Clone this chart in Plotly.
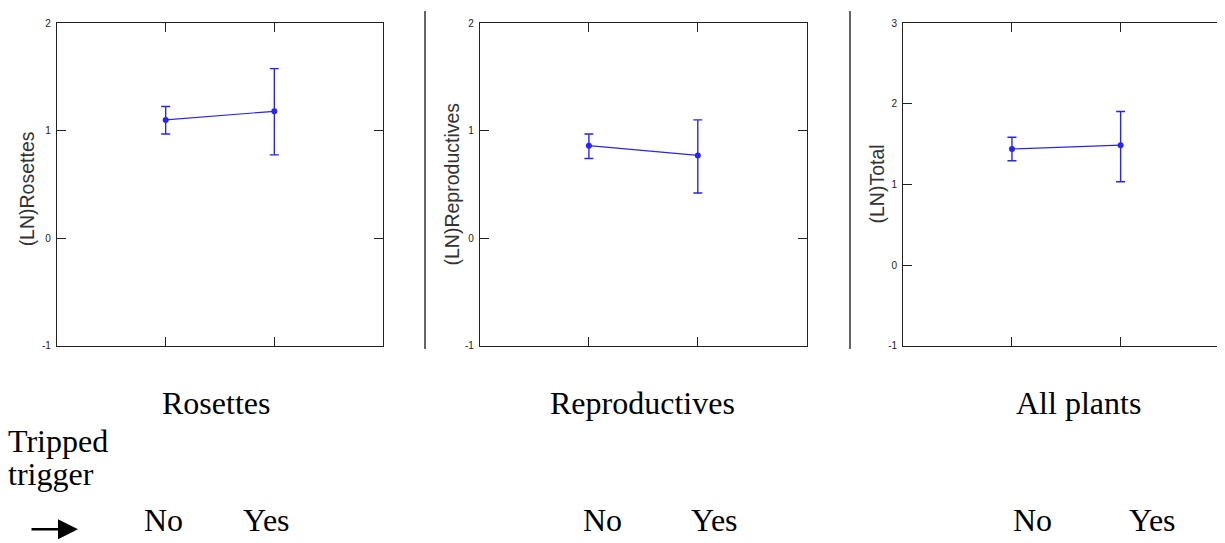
import plotly.graph_objects as go

W, H = 1225, 543
OFF = 8  # page offset of the plot div inside the browser body

groups = ["No", "Yes"]
x_pos = [1, 2]

rosettes_mean = [1.10, 1.18]
rosettes_upper = [1.224, 1.577]
rosettes_lower = [0.969, 0.775]

repro_mean = [0.86, 0.77]
repro_upper = [0.969, 1.10]
repro_lower = [0.741, 0.42]

total_mean = [1.44, 1.487]
total_upper = [1.584, 1.904]
total_lower = [1.293, 1.033]

panel_titles = ["Rosettes", "Reproductives", "All plants"]
y_titles = ["(LN)Rosettes", "(LN)Reproductives", "(LN)Total"]
y_ranges = [[-1, 2], [-1, 2], [-1, 3]]
y_ticks = [[-1, 0, 1, 2], [-1, 0, 1, 2], [-1, 0, 1, 2, 3]]

BLUE = "#2626f0"
AX = "#222222"


def px(x):
    return (x - OFF) / W


def py(y):
    return 1 - (y - OFF) / H


fig = go.Figure()

series = [
    (rosettes_mean, rosettes_upper, rosettes_lower),
    (repro_mean, repro_upper, repro_lower),
    (total_mean, total_upper, total_lower),
]

for i, (m, u, l) in enumerate(series):
    xa = "x" if i == 0 else f"x{i+1}"
    ya = "y" if i == 0 else f"y{i+1}"
    fig.add_trace(go.Scatter(
        x=x_pos, y=m, mode="lines+markers",
        xaxis=xa, yaxis=ya,
        line=dict(color=BLUE, width=1.2),
        marker=dict(color=BLUE, size=6),
        error_y=dict(type="data", symmetric=False,
                     array=[uu - mm for uu, mm in zip(u, m)],
                     arrayminus=[mm - ll for mm, ll in zip(m, l)],
                     color=BLUE, thickness=1.4, width=4.5),
        showlegend=False, hoverinfo="skip",
    ))

ydom = [py(346.6), py(17.3)]
xdoms = [[px(57), px(383)], [px(480), px(806.7)], [px(903.3), px(1229.3)]]

axis_common = dict(showgrid=False, zeroline=False, ticks="inside", ticklen=9,
                   tickwidth=1, tickcolor=AX, linecolor=AX, linewidth=1.3,
                   showline=True)

layout = dict(width=W, height=H, margin=dict(l=0, r=0, t=0, b=0),
              paper_bgcolor="white", plot_bgcolor="white", autosize=False)

for i in range(3):
    sx = "" if i == 0 else str(i + 1)
    layout[f"xaxis{sx}"] = dict(
        axis_common, domain=xdoms[i], range=[0, 3],
        tickvals=x_pos, showticklabels=False,
        mirror="ticks", anchor=f"y{sx}")
    layout[f"yaxis{sx}"] = dict(
        axis_common, domain=ydom, range=y_ranges[i],
        tickvals=y_ticks[i], ticktext=[str(t) for t in y_ticks[i]],
        mirror="ticks" if i < 2 else False, anchor=f"x{sx}",
        tickfont=dict(family="Liberation Sans", size=10, color="#222222"),
        ticklabelstandoff=3)

# right-hand ticks of the third panel; its right frame lies off the page
layout["yaxis4"] = dict(showgrid=False, zeroline=False, ticks="inside", ticklen=9,
                        tickwidth=1, tickcolor=AX, showline=False,
                        overlaying="y3", side="right", anchor="x3",
                        range=y_ranges[2], tickvals=[0, 1, 2],
                        showticklabels=False)
fig.add_trace(go.Scatter(x=[None], y=[None], xaxis="x3", yaxis="y4",
                         showlegend=False, hoverinfo="skip"))

fig.update_layout(**layout)

# separators
for xs in [425, 850]:
    fig.add_shape(type="line", xref="paper", yref="paper",
                  x0=px(xs), x1=px(xs), y0=py(5), y1=py(350),
                  line=dict(color="#111111", width=1.3))

ann = []
title_pos = [(27, 187), (452, 182), (877, 182)]
for t, (x, y) in zip(y_titles, title_pos):
    ann.append(dict(text=t, x=px(x), y=py(y), xref="paper", yref="paper",
                    xanchor="center", yanchor="middle",
                    showarrow=False, textangle=-90,
                    font=dict(family="Liberation Sans", size=19.5, color="#333333")))

SERIF = "Liberation Serif"
panel_centers = [216, 642, 1078]
for t, x in zip(panel_titles, panel_centers):
    ann.append(dict(text=t, x=px(x), y=py(405), xref="paper", yref="paper",
                    xanchor="center", yanchor="middle",
                    showarrow=False, font=dict(family=SERIF, size=32, color="black")))

group_x = [(163.5, 266.5), (602, 714), (1032, 1152)]
for xs in group_x:
    for g, x in zip(groups, xs):
        ann.append(dict(text=g, x=px(x), y=py(524), xref="paper", yref="paper",
                        xanchor="center", yanchor="middle",
                        showarrow=False, font=dict(family=SERIF, size=32, color="black")))

ann.append(dict(text="Tripped", x=px(6), y=py(444), xref="paper", yref="paper",
                xanchor="left", yanchor="middle", showarrow=False,
                font=dict(family=SERIF, size=32, color="black")))
ann.append(dict(text="trigger", x=px(6), y=py(478), xref="paper", yref="paper",
                xanchor="left", yanchor="middle", showarrow=False,
                font=dict(family=SERIF, size=32, color="black")))
ann.append(dict(text="", x=px(78), y=py(534), xref="paper", yref="paper",
                ax=-48, ay=0, axref="pixel", ayref="pixel",
                showarrow=True, arrowhead=2, arrowsize=1.6, arrowwidth=2.5,
                arrowcolor="black"))

fig.update_layout(annotations=ann)

fig.write_html("out.html")
